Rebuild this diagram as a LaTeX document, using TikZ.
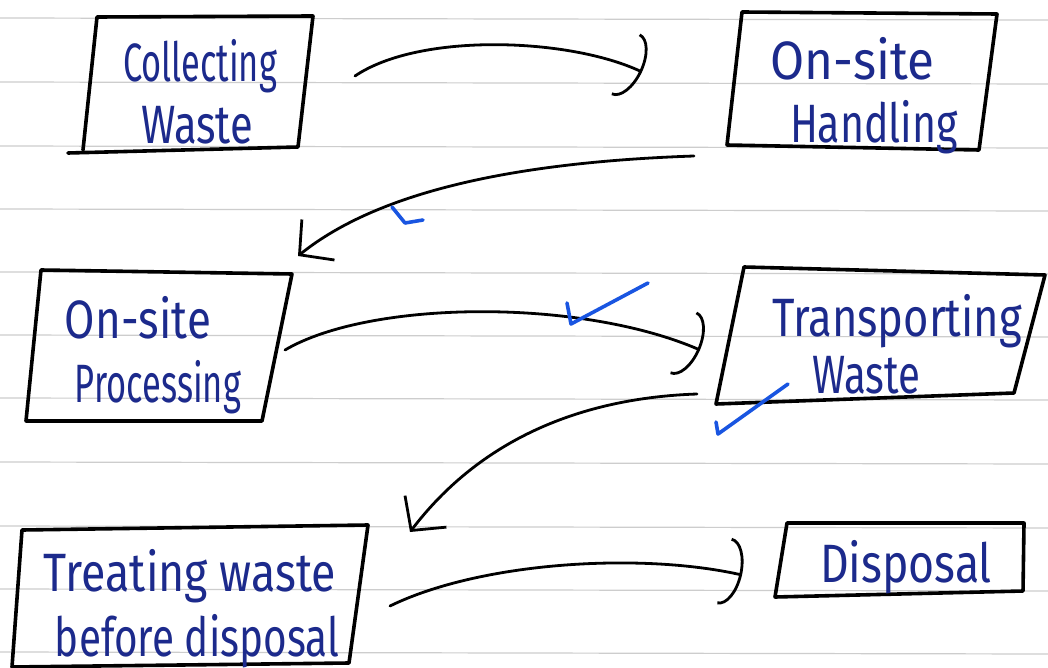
\documentclass[tikz,border=0pt]{standalone}
\usepackage{fontspec}
\setmainfont{Fira Sans}
\usepackage{graphicx}
\usetikzlibrary{arrows.meta}
\definecolor{ink}{RGB}{28,42,140}
\definecolor{tickblue}{RGB}{25,85,225}
\definecolor{ruleline}{RGB}{205,205,205}
\newcommand{\hw}[2]{\resizebox{#1}{1.35\height}{#2}}
\begin{document}
\begin{tikzpicture}[x=0.5pt,y=-0.5pt,
  box/.style={line width=1.8pt, line join=round, line cap=round},
  lbl/.style={anchor=base, inner sep=0pt, text=ink, font=\fontsize{20}{24}\selectfont},
  conn/.style={line width=1.4pt, line cap=round},
  hook/.style={conn, -{Arc Barb[length=9pt,width=34pt,line width=1.4pt]}},
  ell/.style={conn, -{Straight Barb[length=12pt,width=26pt,line width=1.4pt]}},
  tick/.style={tickblue, line width=1.8pt, line cap=round, line join=round}]
\fill[white] (0,0) rectangle (1048,668);
\useasboundingbox (0,0) rectangle (1048,668);
% ruled paper
\foreach \y in {18,82,146,209,272,335,398,462,526,589,652}
  \draw[ruleline, line width=0.6pt] (0,\y) -- (1048,\y+2);
% boxes
\draw[box] (68,153) -- (298,147) -- (313,16) -- (97,17) -- (83,150);
\draw[box] (742,12) -- (997,14) -- (979,150) -- (727,145) -- cycle;
\draw[box] (41,270) -- (292,274) -- (262,421) -- (26,421) -- cycle;
\draw[box] (744,267) -- (1045,275) -- (1014,393) -- (716,404) -- cycle;
\draw[box] (22,530) -- (368,525) -- (349,663) -- (12,667) -- cycle;
\draw[box] (787,523) -- (1024,523) -- (1023,591) -- (775,597) -- cycle;
% texts
\node[lbl] (t1a) at (200,82) {\hw{77pt}{Collecting}};
\node[lbl] (t1b) at (197,144) {\hw{56pt}{Waste}};
\node[lbl] (t2a) at (852,80) {\hw{82pt}{On-site}};
\node[lbl] (t2b) at (874,143) {\hw{84pt}{Handling}};
\node[lbl] (t3a) at (138,338) {\hw{73pt}{On-site}};
\node[lbl] (t3b) at (158,402) {\hw{83pt}{Processing}};
\node[lbl] (t4a) at (897,336) {\hw{125pt}{Transporting}};
\node[lbl] (t4b) at (866,393) {\hw{54pt}{Waste}};
\node[lbl] (t5a) at (190,591) {\hw{146pt}{Treating waste}};
\node[lbl] (t5b) at (197,656) {\hw{142pt}{before disposal}};
\node[lbl] (t6) at (906,582) {\hw{86pt}{Disposal}};
% connector end points
\coordinate (a1s) at (355,76);
\coordinate (a1e) at (642,72);
\coordinate (a2s) at (694,156);
\coordinate (a2e) at (298,256);
\coordinate (a3s) at (285,350);
\coordinate (a3e) at (700,350);
\coordinate (a4s) at (697,394);
\coordinate (a4e) at (410,532);
\coordinate (a5s) at (390,606);
\coordinate (a5e) at (742,575);
% connectors
\draw[hook] (a1s) .. controls (420,32) and (570,38) .. (a1e);
\draw[ell] (a2s) .. controls (520,162) and (380,190) .. (a2e);
\draw[hook] (a3s) .. controls (370,300) and (580,298) .. (a3e);
\draw[ell] (a4s) .. controls (580,398) and (480,440) .. (a4e);
\draw[hook] (a5s) .. controls (480,562) and (640,552) .. (a5e);
% blue check marks
\draw[tick] (392,207) -- (405,223) -- (423,220);
\draw[tick] (567,303) -- (571,324) -- (648,283);
\draw[tick] (716,422) -- (718,434) -- (788,384);
\end{tikzpicture}
\end{document}
